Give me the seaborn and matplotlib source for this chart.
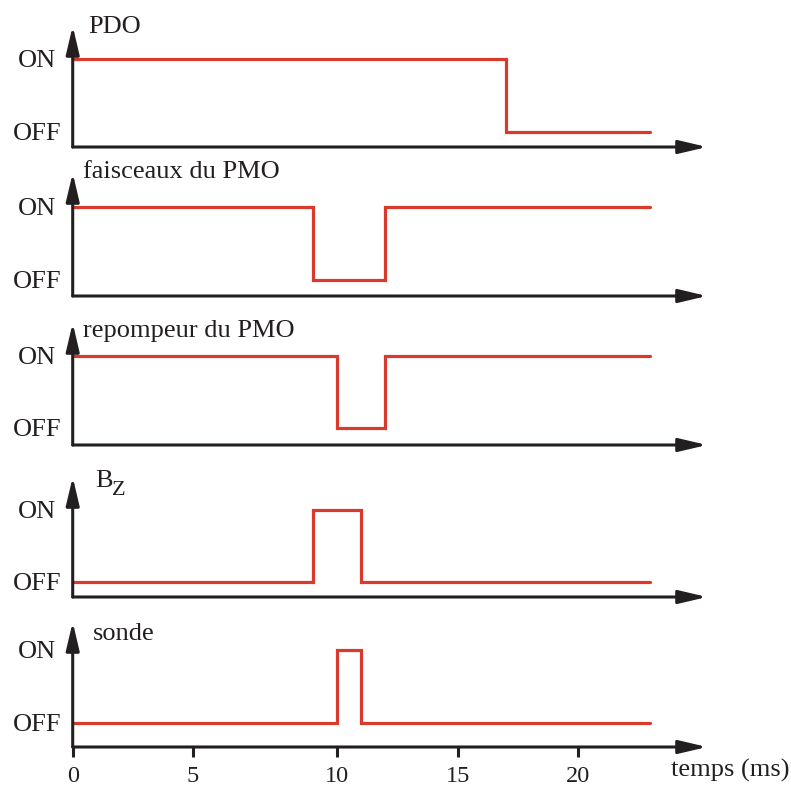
import numpy as np
import pandas as pd
import matplotlib
matplotlib.use("Agg")
import matplotlib.pyplot as plt
import seaborn as sns

# Timing sequence of one cycle, times in ms, state 1 = ON / 0 = OFF (held until next time)
pdo_t = [0, 17, 23]
pdo_s = [1, 0, 0]
faisceaux_t = [0, 9, 12, 23]
faisceaux_s = [1, 0, 1, 1]
repompeur_t = [0, 10, 12, 23]
repompeur_s = [1, 0, 1, 1]
bz_t = [0, 9, 11, 23]
bz_s = [0, 1, 0, 0]
sonde_t = [0, 10, 11, 23]
sonde_s = [0, 1, 0, 0]

channels = ["PDO", "faisceaux du PMO", "repompeur du PMO", "Bz", "sonde"]
state_labels = ["OFF", "ON"]
time_ticks = [0, 5, 10, 15, 20]
time_label = "temps (ms)"

series = {
    "PDO": (pdo_t, pdo_s),
    "faisceaux du PMO": (faisceaux_t, faisceaux_s),
    "repompeur du PMO": (repompeur_t, repompeur_s),
    "Bz": (bz_t, bz_s),
    "sonde": (sonde_t, sonde_s),
}
df = pd.concat(
    [pd.DataFrame({"canal": c, "t": series[c][0], "etat": series[c][1]}) for c in channels],
    ignore_index=True,
)

sns.set_theme(style="white")
plt.rcParams["font.family"] = ["Liberation Serif", "DejaVu Serif"]

INK = "#231f20"
RED = "#d93a2e"
W, H = 791, 787
fig = plt.figure(figsize=(W / 100, H / 100), dpi=100)
fig.patch.set_facecolor("white")


# time axis drawn with the 5-9 ms stretch slightly dilated
def fwd(t):
    t = np.asarray(t, dtype=float)
    return np.where(t < 5, t, np.where(t < 9, 5 + (t - 5) * 1.25, t + 1))


def inv(u):
    u = np.asarray(u, dtype=float)
    return np.where(u < 5, u, np.where(u < 10, 5 + (u - 5) / 1.25, u - 1))


x0_px, x1_px = 72.7, 707.0
px_per_u = 24.06
t_max = float(inv((x1_px - x0_px) / px_per_u))

axis_px = [147, 296, 445, 597, 747]
tip_px = [26, 173, 323, 477, 622]
on_px = [58.5, 206.5, 356, 510, 650]
off_px = [132, 280, 428, 582, 722.5]

arrow = dict(arrowstyle="-|>,head_length=1.7,head_width=0.4", color=INK, lw=2.2,
             shrinkA=0, shrinkB=0, mutation_scale=10)

axes = []
for i, c in enumerate(channels):
    ax = fig.add_axes([x0_px / W, 1 - axis_px[i] / H,
                       (x1_px - x0_px) / W, (axis_px[i] - tip_px[i]) / H])
    ax.set_facecolor("none")
    sub = df[df["canal"] == c]
    sns.lineplot(data=sub, x="t", y="etat", drawstyle="steps-post", estimator=None,
                 color=RED, lw=2.3, ax=ax, clip_on=False)
    for ln in ax.lines:
        ln.set_solid_joinstyle("miter")
    scale = off_px[i] - on_px[i]
    ax.set_ylim(-(axis_px[i] - off_px[i]) / scale, 1 + (on_px[i] - tip_px[i]) / scale)
    ax.set_xscale("function", functions=(fwd, inv))
    ax.set_xlim(0, t_max)
    for sp in ax.spines.values():
        sp.set_visible(False)
    ax.set_xlabel("")
    ax.set_ylabel("")
    ax.set_yticks([0, 1])
    ax.set_yticklabels(state_labels, fontsize=19, color=INK, ha="center")
    ax.tick_params(axis="y", length=0, pad=25.5)
    if i == len(channels) - 1:
        ax.set_xticks(time_ticks)
        ax.set_xticklabels([str(v) for v in time_ticks], fontsize=17.5, color=INK)
        ax.tick_params(axis="x", direction="out", length=7.5, width=2.2, color=INK,
                       pad=6, bottom=True)
    else:
        ax.set_xticks([])
    ax.annotate("", xy=(1, 0), xytext=(0, 0), xycoords="axes fraction",
                arrowprops=arrow, annotation_clip=False)
    ax.annotate("", xy=(0, 1), xytext=(0, 0), xycoords="axes fraction",
                arrowprops=arrow, annotation_clip=False)
    axes.append(ax)

# channel names above each vertical arrow
title_pos = {
    "PDO": (88, 33),
    "faisceaux du PMO": (83, 178),
    "repompeur du PMO": (83, 337),
    "sonde": (93, 640),
}
for name, (px, py) in title_pos.items():
    fig.text(px / W, 1 - py / H, name, fontsize=19, color=INK, va="baseline", ha="left")
fig.text(95 / W, 1 - 487 / H, "B", fontsize=19, color=INK, va="baseline", ha="left")
fig.text(112 / W, 1 - 495 / H, "Z", fontsize=16, color=INK, va="baseline", ha="left")

fig.text(671 / W, 1 - 777 / H, time_label, fontsize=19, color=INK, va="baseline", ha="left")

fig.savefig("out.png", dpi=100, facecolor="white")
